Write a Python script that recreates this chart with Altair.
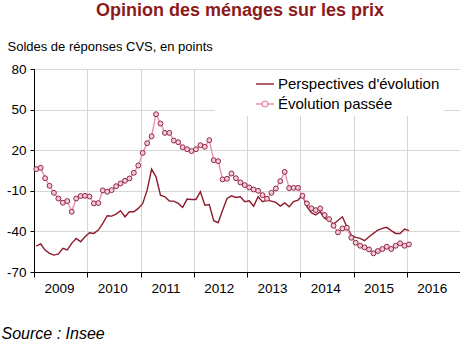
import altair as alt
import pandas as pd

# Monthly observations, Jan 2009 .. Jan 2016
months = [f"{2009 + k // 12}-{k % 12 + 1:02d}" for k in range(85)]

perspectives = [
    -50.8, -49.3, -53.8, -56.2, -57.5, -56.7, -52.5, -53.7, -48.8, -45.2, -47.6, -43.9,
    -41.0, -41.5, -39.0, -34.1, -28.4, -28.7, -27.2, -24.7, -29.2, -25.5, -25.5, -23.0,
    -19.3, -9.5, 6.0, 0.3, -13.2, -14.4, -17.6, -17.6, -19.3, -22.3, -16.1, -16.4,
    -16.4, -10.7, -20.6, -20.1, -32.1, -33.6, -24.3, -15.7, -13.7, -14.9, -14.4, -18.1,
    -17.4, -21.3, -14.4, -18.1, -16.9, -17.6, -18.6, -21.3, -19.0, -21.8, -18.0, -16.9,
    -13.2, -21.8, -26.2, -27.9, -25.5, -30.4, -31.6, -34.6, -32.0, -29.2, -36.6, -42.7,
    -44.4, -45.1, -46.9, -43.9, -41.5, -39.0, -37.8, -37.0, -39.4, -41.5, -41.5, -38.3,
    -39.4,
]

passee = [
    6.0, 7.0, -0.7, -6.3, -11.5, -15.7, -18.8, -17.6, -25.5, -15.7, -13.9, -13.7,
    -14.2, -19.3, -19.1, -9.7, -10.7, -9.5, -6.6, -4.6, -2.6, -0.9, 3.3, 8.7,
    18.0, 25.2, 30.3, 46.6, 39.7, 32.8, 32.8, 27.1, 25.9, 22.2, 20.7, 19.3,
    20.7, 23.7, 22.5, 27.4, 12.6, 11.9, -1.6, -1.1, 2.8, -0.7, -3.8, -5.8,
    -7.5, -9.0, -10.0, -13.2, -15.9, -11.5, -8.3, -2.9, 4.0, -8.0, -7.8, -7.8,
    -13.7, -19.3, -23.0, -24.3, -23.0, -27.9, -30.9, -35.8, -40.7, -37.8, -37.3, -44.7,
    -48.4, -50.6, -51.8, -53.3, -56.2, -54.5, -53.0, -51.3, -53.0, -50.6, -48.8, -50.6,
    -49.6,
]

series_names = ["Perspectives d'évolution", "Évolution passée"]
year_ticks = [2009, 2010, 2011, 2012, 2013, 2014, 2015, 2016]
y_ticks = [-70, -40, -10, 20, 50, 80]

FONT = "Liberation Sans"
DARK = "#8E1B2B"
PINK = "#EE8FAE"
MARKER_PATH = ("M-1,0L-0.32,0M0.32,0L1,0M0.32,0A0.32,0.32,0,1,1,-0.32,0"
               "A0.32,0.32,0,1,1,0.32,0")


def dec_year(m):
    y, mo = m.split("-")
    return int(y) + (int(mo) - 0.5) / 12


rows = []
for m, a, b in zip(months, perspectives, passee):
    rows.append({"t": dec_year(m), "serie": series_names[0], "v": a})
    rows.append({"t": dec_year(m), "serie": series_names[1], "v": b})
df = pd.DataFrame(rows)
df_passee = df[df["serie"] == series_names[1]]

x_enc = alt.X(
    "t:Q",
    scale=alt.Scale(domain=[2009, 2017], nice=False, zero=False),
    axis=alt.Axis(
        values=year_ticks, format="d", labelOffset=25, labelAlign="center",
        labelFontSize=13.5, labelFont=FONT, labelColor="black", labelPadding=4,
        tickSize=5, tickColor="black", domainColor="black", grid=True,
        gridColor="#d6d6d6", title="Source : Insee", titleFont=FONT,
        titleFontSize=16, titleFontStyle="italic", titleFontWeight="normal",
        titleColor="black", titleAnchor="start", titleAlign="left",
        titleBaseline="alphabetic", titleX=-33, titleY=66.5,
    ),
)
y_enc = alt.Y(
    "v:Q",
    scale=alt.Scale(domain=[-70, 80], nice=False, zero=False),
    axis=alt.Axis(
        values=y_ticks, labelExpr="'' + datum.value", labelFontSize=13.5,
        labelFont=FONT, labelColor="black", labelPadding=4, tickSize=4,
        tickColor="black", domainColor="black", grid=True, gridColor="#d6d6d6",
        title="Soldes de réponses CVS, en points", titleFont=FONT,
        titleFontSize=13, titleFontWeight="normal", titleColor="black",
        titleAngle=0, titleAlign="left", titleBaseline="alphabetic",
        titleX=-27, titleY=-19,
    ),
)

legend = alt.Legend(
    title=None, orient="none", legendX=181, legendY=1,
    fillColor="white", padding=4, symbolOffset=36,
    symbolSize=324, symbolStrokeWidth=1.4, symbolOpacity=1,
    symbolFillColor="#f6c9d6",
    labelFontSize=15, labelFont=FONT, labelColor="black",
    labelOffset=3, rowPadding=2, labelLimit=300,
)
color_enc = alt.Color(
    "serie:N", scale=alt.Scale(domain=series_names, range=[DARK, PINK]), legend=legend,
)
shape_enc = alt.Shape(
    "serie:N", scale=alt.Scale(domain=series_names, range=["stroke", MARKER_PATH]),
    legend=legend,
)

lines = alt.Chart(df).mark_line(strokeWidth=1.4).encode(
    x=x_enc, y=y_enc, color=color_enc, order="t:Q",
)

points = alt.Chart(df_passee).mark_point(
    shape="circle", size=24, filled=False, fill="#f6c9d6", fillOpacity=1,
    stroke="#8E2745", strokeWidth=1, opacity=1,
).encode(x="t:Q", y="v:Q")

# legend-only layer (draws nothing: filtered to no rows)
legend_layer = alt.Chart(df).mark_point(strokeWidth=1.4).encode(
    x="t:Q", y="v:Q", color=color_enc, shape=shape_enc,
).transform_filter("datum.v > 1000")

chart = (
    alt.layer(lines, points, legend_layer)
    .properties(
        width=426, height=203,
        autosize=alt.AutoSizeParams(type="none"),
        padding={"left": 34, "top": 69, "right": 0, "bottom": 69},
        title=alt.TitleParams(
            "Opinion des ménages sur les prix", font=FONT, fontSize=18,
            fontWeight="bold", color="#8C1A1A", anchor="middle", dx=-7,
            offset=20,
        ),
    )
    .configure_view(stroke=None)
)

chart.save("out.html", embed_options={"renderer": "svg", "actions": False})
